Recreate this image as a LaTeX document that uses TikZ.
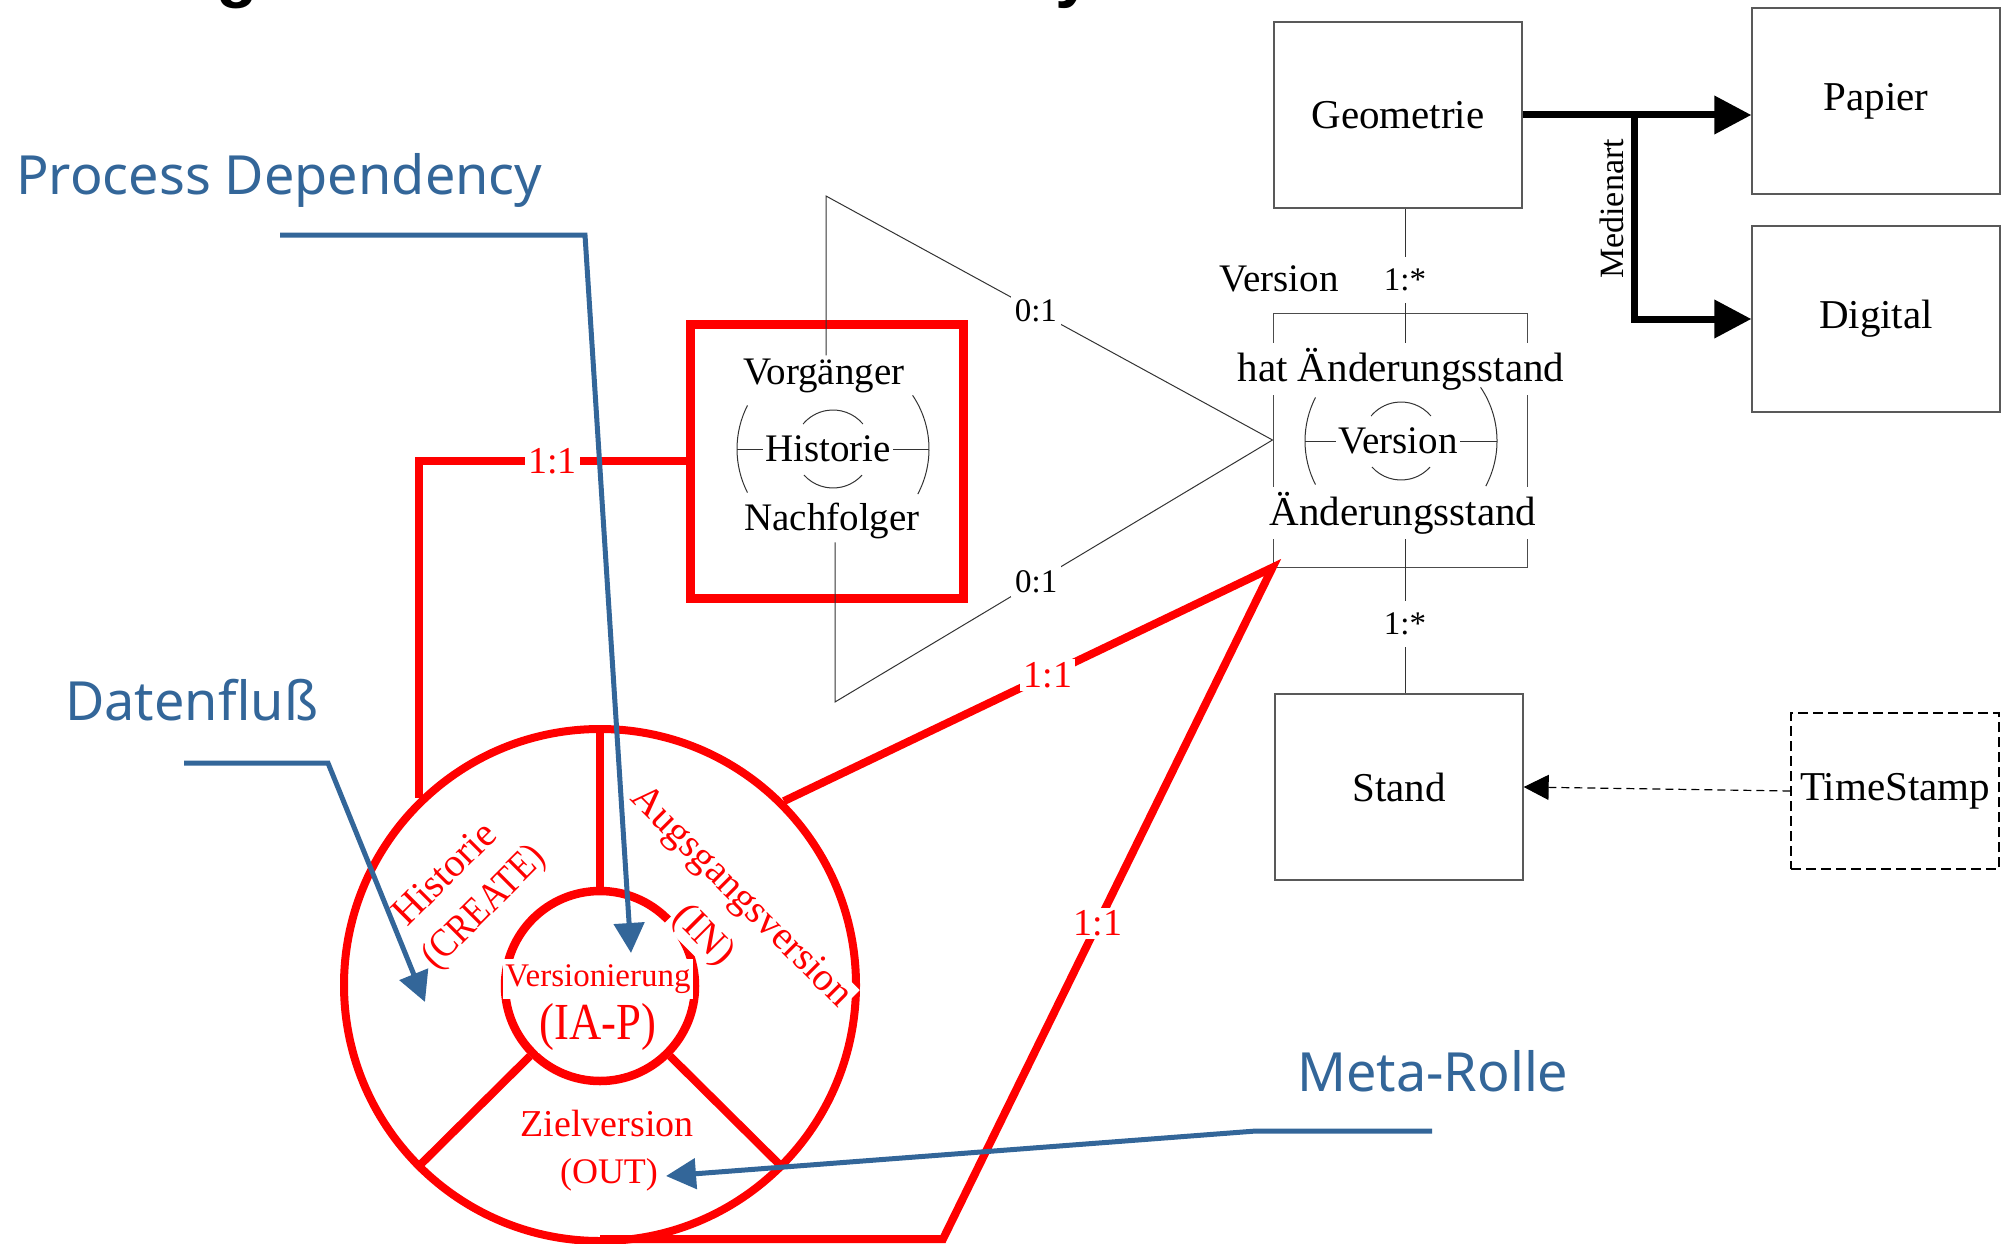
\documentclass[tikz,border=0pt]{standalone}
\usepackage{fontspec}
\usepackage{graphicx}
\setmainfont{Liberation Serif}
\newfontfamily\metafont{Noto Sans}
\newfontfamily\headfont{Liberation Sans}
\usetikzlibrary{arrows.meta}
\definecolor{metablue}{RGB}{51,102,153}
\newcommand\fsz[1]{\fontsize{#1}{#1}\selectfont}

\begin{document}
\begin{tikzpicture}[x=1pt,y=-1pt,
  ent/.style={draw=black!65,line width=1.3pt,minimum width=248pt,minimum height=186pt,font=\fsz{41}},
  card/.style={fill=white,inner sep=4pt,font=\fsz{33}},
  redcard/.style={fill=white,text=red,inner sep=3pt,font=\fsz{38}},
  redline/.style={draw=red,line width=8pt},
  rolelab/.style={text=red,fill=white,inner sep=2pt,font=\fsz{40}},
  meta/.style={draw=metablue,line width=5pt,-{Triangle[length=30pt,width=30pt]}},
  metalab/.style={text=metablue,font=\metafont\fsz{54},anchor=base west,inner sep=0pt},
  thinline/.style={draw=black!80,line width=1pt}]
\useasboundingbox (0,0) rectangle (2013,1244);
% the cut-off heading above the picture
\node[font=\headfont\bfseries\fsz{68},anchor=base west,inner sep=0pt] (headg) at (216,-5) {g};
\node[font=\headfont\bfseries\fsz{68},anchor=base west,inner sep=0pt] (heady) at (1055,-5) {y};

% entities
\node[ent] (geo) at (1398,115) {Geometrie};
\node[ent] (pap) at (1876,101) {Papier};
\node[ent] (dig) at (1876,319) {Digital};
\node[ent] (stand) at (1399,787) {Stand};
\node[ent,draw=black,dash pattern=on 10pt off 5pt,minimum width=208pt,minimum height=156pt,inner xsep=2pt] (ts) at (1895,791) {TimeStamp};
\coordinate (fork) at (1634,115);
\draw[line width=7pt,-{Triangle[length=37pt,width=37pt]}] (geo.east) -- (geo.east -| pap.west);
\draw[line width=7pt,-{Triangle[length=37pt,width=37pt]}] (fork) |- (dig.west);
\node[rotate=90,font=\fsz{34}] (medien) at (1612,209) {Medienart};
\draw[line width=1.2pt,dash pattern=on 8pt off 5pt,-{Triangle[length=25pt,width=25pt]}] (ts.west) -- (stand.east);

% relationship "Version"
\node[draw=black!70,line width=1pt,minimum width=254pt,minimum height=254pt] (vbox) at (1400,440) {};
\node[fill=white,inner xsep=1pt,inner ysep=5pt,font=\fsz{41}] (hatae) at (1401,369) {hat Änderungsstand};
\node[fill=white,inner xsep=1pt,inner ysep=5pt,font=\fsz{41}] (ae) at (1403,513) {Änderungsstand};
\node[font=\fsz{39}] (vlab) at (1279,279) {Version};
\coordinate (vx) at (1405,0);
\draw[thinline] (geo.south -| vx) -- node[card,inner ysep=12pt,pos=0.53] (card1) {1:*} (hatae.north -| vx);
\draw[thinline] (ae.south -| vx) -- node[card,inner ysep=12pt,pos=0.55] (card2) {1:*} (stand.north -| vx);

% recursive relationship "Historie"
\node[draw=red,line width=9pt,minimum width=273pt,minimum height=274pt] (hist) at (826.5,461) {};
\coordinate (hc) at (833,449);
\coordinate (vc) at (1401,441);
\foreach \c in {hc,vc}{
  \draw[thinline] ([shift={(153:96pt)}]\c) arc[start angle=153,end angle=207,radius=96pt];
  \draw[thinline] ([shift={(-28:96pt)}]\c) arc[start angle=-28,end angle=34,radius=96pt];
  \draw[thinline] ([shift={(40:39pt)}]\c) arc[start angle=40,end angle=140,radius=39pt];
  \draw[thinline] ([shift={(222:39pt)}]\c) arc[start angle=222,end angle=318,radius=39pt];
  \draw[thinline] ([xshift=-96pt]\c) -- ([xshift=96pt]\c);}
\node[font=\fsz{39}] (vorg) at (824,376) {Vorgänger};
\node[font=\fsz{39},fill=white,inner xsep=2pt] (histtxt) at (828,449) {Historie};
\node[font=\fsz{39}] (nachf) at (832,521) {Nachfolger};
\node[font=\fsz{39},fill=white,inner xsep=2pt] (verstxt) at (1398,441) {Version};
\coordinate (tp) at (826,196);
\coordinate (bp) at (835,702);
\draw[thinline] (vorg.north -| tp) -- (tp) -- node[card,pos=0.47] (zo1) {0:1} (vbox.west);
\draw[thinline] (nachf.south -| bp) -- (bp) -- node[card,pos=0.46] (zo2) {0:1} (vbox.west);

% process wheel
\node[circle,draw=red,line width=8pt,minimum size=512pt,inner sep=0pt] (outer) at (600,985) {};
\node[circle,draw=red,line width=8.5pt,minimum size=190pt,inner sep=0pt] (inner) at (600,986) {};
\foreach \a in {90,225,315} \draw[red,line width=8pt] (inner.\a) -- (outer.\a);
\coordinate (foot) at (943,1239);
\draw[redline] (hist.west) -| node[redcard,pos=0.25] (one1) {1:1} (outer.134);
\draw[redline] (outer.45) -- node[redcard,pos=0.54] (one2) {1:1} (vbox.south west)
  -- node[redcard,pos=0.53] (one3) {1:1} (foot) -- (foot -| outer.south);
\node[rolelab,inner ysep=6pt,font=\fsz{33}] (versio) at (598,979) {Versionierung};
\node[rolelab,font=\fsz{52}] (iap) at (598,1027) {\scalebox{0.86}[1]{(IA-P)}};
\node[rolelab,font=\fsz{38}] (ziel) at (607,1123) {Zielversion};
\node[rolelab,font=\fsz{36}] (outrole) at (609,1175) {(OUT)};
\node[rolelab,rotate=45] (histrole) at (444,873) {Historie};
\node[rolelab,rotate=45] (create) at (485,908) {\scalebox{0.88}[1]{(CREATE)}};
\node[rolelab,rotate=-45] (ausg) at (740,898) {Augsgangsversion};
\node[rolelab,rotate=-45] (inrole) at (703,936) {(IN)};

% meta annotations
\node[metalab] (pd) at (16,194) {Process Dependency};
\node[metalab] (df) at (65,720) {Datenfluß};
\node[metalab] (mr) at (1297,1091) {Meta-Rolle};
\coordinate (pd1) at (280,235);
\coordinate (pd2) at (585,235);
\coordinate (pdt) at (631,953);
\coordinate (df1) at (184,763);
\coordinate (df2) at (328,763);
\coordinate (dft) at (425,1002);
\coordinate (mr1) at (1432,1131);
\coordinate (mr2) at (1256,1131);
\coordinate (mrt) at (666,1176);
\draw[meta] (pd1) -- (pd2) -- (pdt);
\draw[meta] (df1) -- (df2) -- (dft);
\draw[meta] (mr1) -- (mr2) -- (mrt);
\end{tikzpicture}
\end{document}
